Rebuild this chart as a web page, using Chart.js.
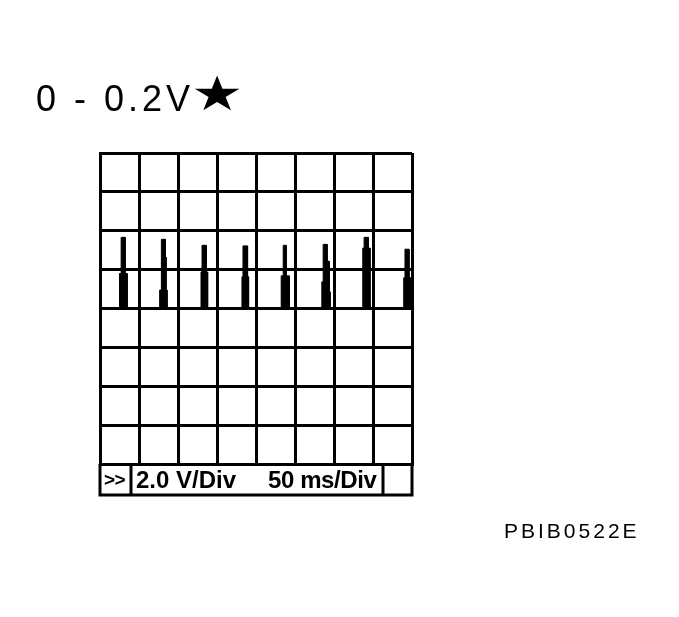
<!DOCTYPE html>
<html>
<head>
<meta charset="utf-8">
<script src="https://cdn.jsdelivr.net/npm/chart.js@4.4.1/dist/chart.umd.min.js"></script>
<style>
  html, body { margin: 0; padding: 0; background: #fff; }
  canvas { display: block; }
</style>
</head>
<body>
<canvas id="scope" width="679" height="617"></canvas>
<script>
// escala del osciloscopio
const voltsPorDiv = 2.0;
const msPorDiv = 50;
const divisiones = 8;

// traza (ms, V)
const tiempoMs = [
    0, 25.0, 25.0, 27.1, 27.1, 32.3, 32.3, 34.8, 34.8,
    76.5, 76.5, 78.7, 78.7, 83.8, 83.8, 84.7, 84.7, 86.0, 86.0,
    129.5, 129.5, 130.8, 130.8, 136.3, 136.3, 138.0, 138.0,
    182.0, 182.0, 183.3, 183.3, 189.2, 189.2, 190.5, 190.5,
    232.3, 232.3, 234.9, 234.9, 238.7, 238.7, 242.6, 242.6,
    284.4, 284.4, 286.1, 286.1, 291.2, 291.2, 293.8, 293.8, 295.0, 295.0,
    336.9, 336.9, 338.6, 338.6, 344.1, 344.1, 346.2, 346.2,
    389.4, 389.4, 391.0, 391.0, 396.2, 396.2, 400
];
const voltaje = [
    0, 0, 1.80, 1.80, 3.66, 3.66, 1.80, 1.80, 0,
    0, 0.95, 0.95, 3.56, 3.56, 2.65, 2.65, 0.95, 0.95, 0,
    0, 1.88, 1.88, 3.25, 3.25, 1.88, 1.88, 0,
    0, 1.63, 1.63, 3.22, 3.22, 1.63, 1.63, 0,
    0, 1.68, 1.68, 3.25, 3.25, 1.68, 1.68, 0,
    0, 1.37, 1.37, 3.30, 3.30, 2.43, 2.43, 0.86, 0.86, 0,
    0, 3.11, 3.11, 3.66, 3.66, 3.11, 3.11, 0,
    0, 1.58, 1.58, 3.05, 3.05, 1.58, 1.58, 0
];

// textos
const titulo = '0 - 0.2V';
const estrella = '\u2605';
const etiquetaVolt = '2.0 V/Div';
const etiquetaTiempo = '50 ms/Div';
const codigoFigura = 'PBIB0522E';

const puntos = tiempoMs.map((t, i) => ({ x: t, y: voltaje[i] }));

// barra inferior, titulo y codigo
const textosScope = {
    id: 'textosScope',
    afterDraw(chart) {
        const ctx = chart.ctx;
        const area = chart.chartArea;
        const barraAbajo = area.bottom + 31;
        ctx.save();
        ctx.strokeStyle = '#000';
        ctx.lineWidth = 3;
        ctx.beginPath();
        ctx.moveTo(area.left, area.bottom);
        ctx.lineTo(area.left, barraAbajo);
        ctx.lineTo(area.right, barraAbajo);
        ctx.lineTo(area.right, area.bottom);
        ctx.moveTo(area.left + 31, area.bottom);
        ctx.lineTo(area.left + 31, barraAbajo);
        ctx.moveTo(area.right - 29, area.bottom);
        ctx.lineTo(area.right - 29, barraAbajo);
        ctx.stroke();

        ctx.fillStyle = '#000';
        ctx.textBaseline = 'alphabetic';
        ctx.textAlign = 'left';
        ctx.font = 'bold 19px "Liberation Sans", Arial, sans-serif';
        ctx.letterSpacing = '-0.5px';
        ctx.fillText('>>', area.left + 4, area.bottom + 22);
        ctx.font = 'bold 24px "Liberation Sans", Arial, sans-serif';
        ctx.letterSpacing = '0px';
        ctx.fillText(etiquetaVolt, 136, area.bottom + 24);
        ctx.letterSpacing = '-0.4px';
        ctx.fillText(etiquetaTiempo, 268, area.bottom + 24);

        ctx.font = '36px "Liberation Sans", Arial, sans-serif';
        ctx.letterSpacing = '4px';
        ctx.fillText(titulo, 36, 111);
        ctx.letterSpacing = '0px';
        ctx.save();
        ctx.translate(191, 110);
        ctx.scale(1.12, 0.92);
        ctx.font = '52px "DejaVu Sans", sans-serif';
        ctx.fillText(estrella, 0, 0);
        ctx.restore();

        ctx.font = '21px "Liberation Sans", Arial, sans-serif';
        ctx.letterSpacing = '3px';
        ctx.fillText(codigoFigura, 504, 538);
        ctx.restore();
    }
};

const rejilla = {
    color: '#000',
    lineWidth: 3,
    drawTicks: false
};

new Chart(document.getElementById('scope').getContext('2d'), {
    type: 'line',
    data: {
        datasets: [{
            data: puntos,
            borderColor: '#000',
            backgroundColor: '#000',
            borderWidth: 1,
            pointRadius: 0,
            tension: 0,
            fill: 'origin'
        }]
    },
    options: {
        responsive: false,
        animation: false,
        layout: { padding: { left: 100, top: 153, right: 267, bottom: 153 } },
        plugins: {
            legend: { display: false },
            tooltip: { enabled: false }
        },
        scales: {
            x: {
                type: 'linear',
                min: 0,
                max: msPorDiv * divisiones,
                ticks: { display: false, stepSize: msPorDiv },
                grid: rejilla,
                border: { display: true, color: '#000', width: 3 }
            },
            y: {
                type: 'linear',
                min: -voltsPorDiv * divisiones / 2,
                max: voltsPorDiv * divisiones / 2,
                ticks: { display: false, stepSize: voltsPorDiv },
                grid: rejilla,
                border: { display: true, color: '#000', width: 3 }
            }
        }
    },
    plugins: [textosScope]
});
</script>
</body>
</html>
